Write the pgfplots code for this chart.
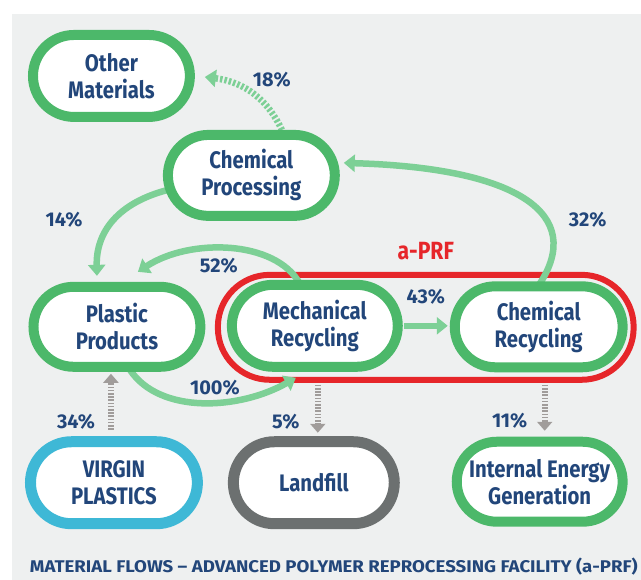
\documentclass[border=0pt]{standalone}
\usepackage{pgfplots}
\pgfplotsset{compat=1.18}
\usepackage{fontspec}
\setmainfont{Fira Sans}[FakeStretch=0.85]
\newfontfamily\pctfont{Fira Sans}[FakeStretch=1.0]
\newfontfamily\capfont{Fira Sans}[FakeStretch=1.1]
\usetikzlibrary{shapes.misc,arrows.meta}
\definecolor{bgg}{RGB}{238,240,240}
\definecolor{ringg}{RGB}{76,184,106}
\definecolor{arrg}{RGB}{125,208,150}
\definecolor{redr}{RGB}{230,38,42}
\definecolor{cyanr}{RGB}{62,184,214}
\definecolor{greyr}{RGB}{108,112,112}
\definecolor{greya}{RGB}{160,156,154}
\definecolor{txt}{RGB}{34,70,122}
\begin{document}
\begin{tikzpicture}
\begin{axis}[width=641bp, height=580bp, scale only axis,
  xmin=0, xmax=641, ymin=0, ymax=580, y dir=reverse,
  hide axis, clip=false]
% background
\addplot[fill=white, draw=none] coordinates {(0,0) (641,0) (641,580) (0,580)} -- cycle;
\addplot[fill=bgg, draw=none] coordinates {(12,14) (641,14) (641,580) (12,580)} -- cycle;
% a-PRF frame
\draw[redr, line width=6bp, rounded corners=52bp] (axis cs:218,275) rectangle (axis cs:634,380);
\node[text=redr, font=\fontsize{25}{28}\selectfont\bfseries] at (axis cs:426,251) {a-PRF};
% arrows
\tikzset{garr/.style={arrg, line width=6.5bp, -{Triangle[length=11bp,width=17bp]}},
         darr/.style={greya, line width=6bp, dash pattern=on 1.6bp off 1.6bp, -{Triangle[length=9bp,width=15bp]}}}
\draw[garr, dash pattern=on 2.5bp off 2bp] (axis cs:282,130) .. controls (axis cs:268,100) and (axis cs:245,82) .. (axis cs:205,77);
\draw[garr] (axis cs:168,190) .. controls (axis cs:118,203) and (axis cs:96,232) .. (axis cs:97,276);
\draw[garr] (axis cs:300,284) .. controls (axis cs:276,240) and (axis cs:190,238) .. (axis cs:138,272);
\draw[garr] (axis cs:540,284) .. controls (axis cs:585,215) and (axis cs:520,168) .. (axis cs:344,163);
\draw[garr] (axis cs:404,326) -- (axis cs:448,326);
\draw[garr] (axis cs:130,370) .. controls (axis cs:160,415) and (axis cs:240,410) .. (axis cs:296,378);
\draw[darr] (axis cs:111,430) -- (axis cs:111,374);
\draw[darr] (axis cs:318,385) -- (axis cs:318,433);
\draw[darr] (axis cs:545,385) -- (axis cs:545,431);
% boxes
\tikzset{pill/.style={rounded rectangle, fill=white, line width=10bp, align=center,
   text=txt, font=\fontsize{24}{27}\selectfont\bfseries, inner sep=0pt}}
\node[pill, draw=ringg, minimum width=157bp, minimum height=82bp] at (axis cs:111.5,76) {Other\\Materials};
\node[pill, draw=ringg, minimum width=167bp, minimum height=81bp] at (axis cs:251.5,175.5) {Chemical\\Processing};
\node[pill, draw=ringg, minimum width=167bp, minimum height=80bp] at (axis cs:117,327) {Plastic\\Products};
\node[pill, draw=ringg, minimum width=166bp, minimum height=82bp] at (axis cs:315,326) {Mechanical\\Recycling};
\node[pill, draw=ringg, minimum width=168bp, minimum height=81bp] at (axis cs:539,327) {Chemical\\Recycling};
\node[pill, draw=cyanr, line width=11bp, minimum width=167bp, minimum height=82bp] at (axis cs:114,483) {VIRGIN\\PLASTICS};
\node[pill, draw=greyr, line width=11bp, minimum width=161bp, minimum height=82bp] at (axis cs:314,483) {Landfill};
\node[pill, draw=ringg, minimum width=166bp, minimum height=80bp] at (axis cs:540,482) {Internal Energy\\Generation};
% percentages
\tikzset{pct/.style={text=txt, font=\pctfont\fontsize{20}{22}\selectfont\bfseries}}
\node[pct] at (axis cs:272,80) {18\%};
\node[pct] at (axis cs:64,220) {14\%};
\node[pct] at (axis cs:219,266) {52\%};
\node[pct] at (axis cs:588,220) {32\%};
\node[pct] at (axis cs:426,297) {43\%};
\node[pct] at (axis cs:215,388) {100\%};
\node[pct] at (axis cs:76,422) {34\%};
\node[pct] at (axis cs:286,422) {5\%};
\node[pct] at (axis cs:510,421) {11\%};
% caption
\node[text=txt, font=\capfont\fontsize{17}{19}\selectfont\bfseries] at (axis cs:334,567) {MATERIAL FLOWS – ADVANCED POLYMER REPROCESSING FACILITY (a-PRF)};
\end{axis}
\end{tikzpicture}
\end{document}
